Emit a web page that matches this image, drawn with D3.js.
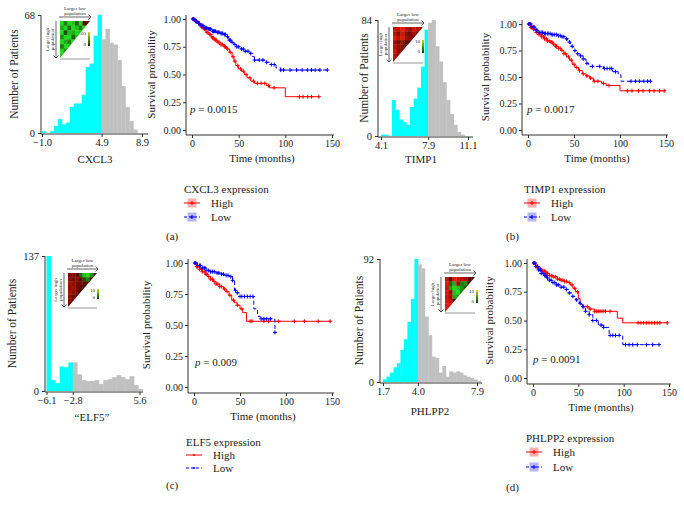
<!DOCTYPE html>
<html><head><meta charset="utf-8">
<script src="https://cdn.jsdelivr.net/npm/d3@7"></script>
<style>body{margin:0;background:#fff}svg{display:block}text{font-family:"Liberation Serif","Times New Roman",serif;fill:#222}</style>
</head><body>
<svg id="c" width="684" height="509"></svg>
<script>
// ---------------- data ----------------
const histXLabels = ["CXCL3", "TIMP1", "\u201CELF5\u201D", "PHLPP2"];
const legendTitles = ["CXCL3 expression", "TIMP1 expression", "ELF5 expression", "PHLPP2 expression"];
const pValues = ["0.0015", "0.0017", "0.009", "0.0091"];
const panelLetters = ["(a)", "(b)", "(c)", "(d)"];
const groupNames = ["High", "Low"];
const survTicksX = [0, 50, 100, 150];
const survTicksY = [0, 0.25, 0.5, 0.75, 1];

// histograms
const histA_ticks = [-1.0, 4.9, 8.9], histA_max = 68, histA_bin = 0.393;
const histA_low = [1, 0, 1, 4, 8, 5, 6, 15, 17, 17, 22, 38, 40, 56, 68];
const histA_high = [54, 60, 52, 51, 42, 27, 15, 7, 2];
const histB_ticks = [4.1, 7.9, 11.1], histB_max = 84, histB_bin = 0.292;
const histB_low = [1, 1, 0, 26, 19, 12, 10, 8, 21, 27, 35, 50, 77];
const histB_high = [82, 84, 65, 54, 39, 26, 16, 8, 3, 1];
const histC_ticks = [-6.1, -2.8, 5.6], histC_max = 137, histC_bin = 0.55;
const histC_low = [137, 11, 8, 25, 24, 29];
const histC_high = [29, 17, 11, 10, 10, 11, 7, 11, 12, 14, 16, 14, 12, 15, 6, 2];
const histD_ticks = [1.7, 4.0, 7.9], histD_max = 92, histD_bin = 0.23;
const histD_low = [2, 4, 7, 11, 14, 24, 32, 45, 62, 92];
const histD_high = [88, 85, 49, 35, 19, 18, 7, 12, 4, 8, 7, 8, 7, 5, 4, 3, 2, 1];

// survival curves [time, survival]
const survA_high = [[0,1],[3,0.98],[6,0.96],[9,0.93],[12,0.91],[15,0.88],[18,0.86],[21,0.83],[24,0.81],[27,0.79],[30,0.77],[34,0.75],[37,0.73],[40,0.70],[43,0.66],[45,0.62],[47,0.58],[50,0.55],[53,0.53],[56,0.50],[59,0.47],[63,0.44],[67,0.42],[80,0.40],[83,0.38],[100,0.30]];
const survA_highEnd = 137;
const survA_highCens = [1,2,4,5,7,8,10,11,13,14,16,17,19,20,22,23,25,26,28,29,31,32,33,35,36,38,41,44,46,49,52,55,58,62,66,70,74,78,82,88,115,119,124,128,136];
const survA_low = [[0,1],[3,0.98],[6,0.96],[9,0.94],[13,0.92],[17,0.91],[21,0.89],[26,0.88],[30,0.87],[34,0.86],[37,0.84],[39,0.81],[42,0.79],[45,0.77],[48,0.75],[52,0.73],[56,0.71],[62,0.69],[65,0.66],[67,0.63],[78,0.61],[83,0.59],[90,0.56],[95,0.54]];
const survA_lowEnd = 145;
const survA_lowCens = [1,2,4,5,7,8,10,11,12,14,15,16,18,19,20,22,23,24,25,27,28,29,31,32,33,35,36,38,40,41,43,46,48,50,53,55,57,60,63,67,72,76,80,85,88,95,98,105,112,118,124,128,132,137,145];

const survB_high = [[0,1],[3,0.97],[6,0.95],[9,0.92],[12,0.90],[15,0.88],[18,0.86],[21,0.84],[24,0.83],[27,0.81],[30,0.79],[33,0.77],[36,0.75],[39,0.72],[42,0.69],[45,0.66],[48,0.62],[51,0.59],[55,0.56],[59,0.53],[63,0.51],[67,0.49],[71,0.46],[80,0.44],[85,0.42],[100,0.37]];
const survB_highEnd = 150;
const survB_highCens = [1,2,3,5,6,8,9,11,12,14,15,17,18,20,21,23,25,26,28,30,31,33,35,37,39,41,44,47,50,53,56,60,64,68,72,76,82,88,108,113,120,125,132,137,143,148];
const survB_low = [[0,1],[4,0.97],[8,0.94],[12,0.92],[18,0.91],[25,0.90],[32,0.89],[36,0.88],[40,0.86],[43,0.83],[46,0.79],[49,0.75],[52,0.72],[56,0.70],[60,0.67],[63,0.63],[66,0.60],[82,0.58],[92,0.55],[98,0.52],[101,0.46]];
const survB_lowEnd = 134;
const survB_lowCens = [1,2,3,4,6,7,9,10,12,13,15,16,18,19,21,22,24,26,27,29,31,33,35,37,39,42,45,48,51,54,57,60,64,70,78,83,86,89,91,95,112,117,121,126,130,133];

const survC_high = [[0,1],[3,0.97],[6,0.95],[9,0.93],[12,0.91],[15,0.89],[18,0.87],[21,0.85],[24,0.83],[28,0.81],[32,0.79],[35,0.77],[38,0.74],[41,0.70],[44,0.68],[47,0.66],[50,0.63],[53,0.60],[57,0.53]];
const survC_highEnd = 148;
const survC_highCens = [1,3,4,6,8,9,11,13,14,16,18,20,22,24,26,28,30,33,36,39,43,47,52,61,63,76,81,92,109,120,135,148];
const survC_low = [[0,1],[4,0.98],[8,0.96],[13,0.94],[18,0.93],[23,0.92],[28,0.91],[33,0.90],[38,0.89],[42,0.86],[44,0.78],[46,0.76],[49,0.73],[65,0.63],[69,0.57],[72,0.55],[88,0.44]];
const survC_lowEnd = 88;
const survC_lowCens = [1,2,4,6,7,9,11,12,14,16,18,20,22,25,27,30,32,35,37,40,42,45,47,50,52,55,58,61,64,73,76,79,83,88];

const survD_high = [[0,1],[3,0.97],[6,0.95],[10,0.93],[14,0.91],[18,0.89],[22,0.88],[27,0.86],[31,0.85],[35,0.84],[38,0.83],[41,0.81],[44,0.78],[47,0.75],[50,0.69],[52,0.64],[55,0.62],[62,0.60],[68,0.58],[93,0.52],[99,0.48]];
const survD_highEnd = 148;
const survD_highCens = [1,2,4,5,7,8,10,12,13,15,16,18,20,21,23,25,27,29,31,33,35,37,40,43,46,49,56,60,63,68,70,72,74,76,78,80,85,116,119,122,125,128,131,134,137,140,148];
const survD_low = [[0,1],[3,0.97],[6,0.94],[9,0.91],[12,0.89],[15,0.87],[18,0.85],[21,0.83],[25,0.81],[30,0.79],[35,0.77],[39,0.74],[43,0.71],[47,0.68],[51,0.65],[55,0.62],[58,0.58],[62,0.55],[66,0.50],[72,0.46],[78,0.44],[84,0.37],[99,0.29]];
const survD_lowEnd = 140;
const survD_lowCens = [1,2,3,5,6,8,9,11,13,14,16,18,20,22,24,26,28,31,34,37,40,44,48,52,55,58,62,66,70,75,78,85,88,91,95,102,106,110,115,125,132,139];

// inset heat maps (pairwise split scores; negative = green, positive = red)
const heatA = [
 [-0.9,-0.5,-0.9,-0.8,-0.4,-0.9,0.3,0.2],
 [-0.7,-0.9,-0.4,-0.9,-0.8,-0.5,-0.9,0],
 [-0.9,-0.3,-0.8,-0.7,-0.9,-0.8,0,0],
 [-0.6,-0.9,-0.9,-0.4,-0.8,0,0,0],
 [-0.9,-0.7,-0.5,-0.9,0,0,0,0],
 [-0.5,-0.9,-0.8,0,0,0,0,0],
 [-0.9,-0.6,0,0,0,0,0,0],
 [-0.8,0,0,0,0,0,0,0]];
const heatB = [
 [0.8,0.7,0.9,0.7,0.6,0.8,0.7,0.5],
 [0.7,0.5,0.8,0.5,0.4,0.6,0.4,0],
 [0.9,0.7,0.9,0.6,0.5,0.4,0,0],
 [0.6,0.4,0.6,0.3,0.3,0,0,0],
 [0.7,0.5,0.5,0.3,0,0,0,0],
 [0.8,0.5,0.4,0,0,0,0,0],
 [0.7,0.4,0,0,0,0,0,0],
 [0.6,0,0,0,0,0,0,0]];
const heatC = [
 [0.4,0.5,0.3,-0.4,-0.8,-0.9,-0.6,0.2],
 [0.5,0.4,0.5,0.3,-0.3,-0.5,0.2,0],
 [0.6,0.5,0.4,0.4,0.3,0.2,0,0],
 [0.5,0.6,0.4,0.3,0.2,0,0,0],
 [0.6,0.5,0.4,0.2,0,0,0,0],
 [0.5,0.4,0.3,0,0,0,0,0],
 [0.5,0.3,0,0,0,0,0,0],
 [0.4,0,0,0,0,0,0,0]];
const heatD = [
 [0.8,0.3,0.9,0.8,0.7,0.6,0.3,0.2],
 [0.9,-0.4,-0.7,0.6,-0.5,-0.6,0.2,0],
 [0.8,-0.6,-0.9,-0.8,-0.6,-0.3,0,0],
 [0.9,0.5,-0.8,-0.9,-0.5,0,0,0],
 [0.8,0.6,-0.7,-0.6,0,0,0,0],
 [0.9,0.7,0.3,0,0,0,0,0],
 [0.9,0.8,0,0,0,0,0,0],
 [0.9,0,0,0,0,0,0,0]];
const heatBarLabels = [[".05","0"],["10","0"],["10","0"],["10","0"]];

// ---------------- layout ----------------
const svg = d3.select("#c");
svg.append("rect").attr("width",684).attr("height",509).attr("fill","#fff");
const FONT = "Liberation Serif";

function hideDomain(sel){ sel.select(".domain").remove(); sel.selectAll(".tick line").attr("stroke","#333"); sel.selectAll(".tick text").attr("font-family",FONT).attr("fill","#222"); }

function drawHist(L, ticks, ymax, bin, low, high, xlabel){
  const g = svg.append("g");
  const x = d3.scaleLinear().domain([ticks[0], ticks[2]]).range([L.xa, L.xb]);
  const y = d3.scaleLinear().domain([0, ymax]).range([L.yb, L.yt]);
  const bars = [];
  low.forEach((c,i)=>bars.push({x0: ticks[0]+i*bin, x1: ticks[0]+(i+1)*bin, c, col:"#00ffff"}));
  const lowEnd = ticks[0] + low.length*bin;
  high.forEach((c,i)=>bars.push({x0: lowEnd+i*bin, x1: lowEnd+(i+1)*bin, c, col:"#c0c0c0"}));
  g.selectAll("rect.bar").data(bars).join("rect").attr("class","bar")
    .attr("x",d=>x(d.x0)).attr("width",d=>Math.max(0,x(d.x1)-x(d.x0))+0.4)
    .attr("y",d=>y(d.c)).attr("height",d=>y(0)-y(d.c)).attr("fill",d=>d.col);
  // axes
  const xa = g.append("g").attr("transform",`translate(0,${L.yb+1})`)
    .call(d3.axisBottom(x).tickValues(ticks).tickFormat(d3.format(".1f")).tickSize(3).tickPadding(2));
  hideDomain(xa); xa.selectAll(".tick text").attr("font-size",10.5);
  g.append("line").attr("x1",L.ax).attr("x2",L.xe).attr("y1",L.yb+1).attr("y2",L.yb+1).attr("stroke","#333");
  const ya = g.append("g").attr("transform",`translate(${L.ax},0)`)
    .call(d3.axisLeft(y).tickValues([0,ymax]).tickSize(3).tickPadding(3));
  hideDomain(ya); ya.selectAll(".tick text").attr("font-size",10.5);
  g.append("line").attr("x1",L.ax).attr("x2",L.ax).attr("y1",L.yt).attr("y2",L.yb+1).attr("stroke","#333");
  g.append("text").attr("transform",`translate(${L.ylx},${(L.yt+L.yb)/2}) rotate(-90)`)
    .attr("text-anchor","middle").attr("font-size",11.5).text("Number of Patients");
  g.append("text").attr("x",L.xlx).attr("y",L.xly).attr("text-anchor","middle").attr("font-size",11).text(xlabel);
}

function heatColor(v){
  if (v < 0) return d3.interpolateRgb("#1a0a00","#22ee22")(-v);
  return d3.interpolateRgb("#1a0000","#ff1a00")(v);
}

function drawInset(I, M, barLab, idx){
  const g = svg.append("g");
  const n = M.length, cw = I.w/n, ch = I.h/n;
  g.append("rect").attr("x",I.x).attr("y",I.y).attr("width",I.w).attr("height",I.h).attr("fill","#fff");
  const cells = [];
  M.forEach((row,i)=>row.forEach((v,j)=>{ if(i+j<n) cells.push({i,j,v}); }));
  const clipId = "tri"+idx;
  g.append("clipPath").attr("id",clipId).append("path")
    .attr("d",`M${I.x},${I.y}L${I.x+I.w},${I.y}L${I.x},${I.y+I.h}Z`);
  g.append("g").attr("clip-path",`url(#${clipId})`).selectAll("rect").data(cells).join("rect")
    .attr("x",d=>I.x+d.j*cw).attr("y",d=>I.y+d.i*ch).attr("width",cw+0.3).attr("height",ch+0.3)
    .attr("fill",d=>heatColor(d.v));
  // bottom line
  g.append("line").attr("x1",I.x).attr("x2",I.x+I.w).attr("y1",I.y+I.h+1).attr("y2",I.y+I.h+1).attr("stroke","#555").attr("stroke-width",0.6);
  // colour bar
  const gid = "cb"+idx;
  const grad = svg.append("defs").append("linearGradient").attr("id",gid).attr("x1",0).attr("x2",0).attr("y1",0).attr("y2",1);
  grad.append("stop").attr("offset","0%").attr("stop-color","#e8d000");
  grad.append("stop").attr("offset","50%").attr("stop-color","#40a000");
  grad.append("stop").attr("offset","100%").attr("stop-color","#103000");
  g.append("rect").attr("x",I.cbx).attr("y",I.cby).attr("width",2).attr("height",I.cbh).attr("fill",`url(#${gid})`);
  g.append("text").attr("x",I.cbx-2).attr("y",I.cby+3).attr("text-anchor","end").attr("font-size",5).text(barLab[0]);
  g.append("text").attr("x",I.cbx-2).attr("y",I.cby+I.cbh).attr("text-anchor","end").attr("font-size",5).text(barLab[1]);
  // arrows
  const ah = 2.5;
  g.append("path").attr("d",`M${I.x-1},${I.y-4}H${I.x+I.w+1}M${I.x+I.w+1-ah},${I.y-4-ah}L${I.x+I.w+1},${I.y-4}L${I.x+I.w+1-ah},${I.y-4+ah}`)
    .attr("fill","none").attr("stroke","#222").attr("stroke-width",0.7);
  g.append("path").attr("d",`M${I.x-4},${I.y}V${I.y+I.h}M${I.x-4-ah},${I.y+I.h-ah}L${I.x-4},${I.y+I.h}L${I.x-4+ah},${I.y+I.h-ah}`)
    .attr("fill","none").attr("stroke","#222").attr("stroke-width",0.7);
  const cx = I.x + I.w/2;
  g.append("text").attr("x",cx).attr("y",I.y-11).attr("text-anchor","middle").attr("font-size",5).text("Larger low");
  g.append("text").attr("x",cx).attr("y",I.y-6).attr("text-anchor","middle").attr("font-size",5).text("population");
  const cy = I.y + I.h/2;
  g.append("text").attr("transform",`translate(${I.x-11},${cy}) rotate(-90)`).attr("text-anchor","middle").attr("font-size",5).text("Larger high");
  g.append("text").attr("transform",`translate(${I.x-6.5},${cy}) rotate(-90)`).attr("text-anchor","middle").attr("font-size",5).text("population");
}

function stepAt(curve, t){ let s = curve[0][1]; for (const p of curve){ if (p[0] <= t) s = p[1]; } return s; }

function drawSurv(L, high, highEnd, highCens, low, lowEnd, lowCens, pval){
  const g = svg.append("g");
  const x = d3.scaleLinear().domain([0,150]).range([L.t0, L.t150]);
  const y = d3.scaleLinear().domain([0,1]).range([L.s0, L.s1]);
  const line = d3.line().curve(d3.curveStepAfter).x(d=>x(d[0])).y(d=>y(d[1]));
  const series = [
    {c: high, end: highEnd, cens: highCens, col:"#ff0000", dash:null},
    {c: low, end: lowEnd, cens: lowCens, col:"#0000ff", dash:"4,2.5"}];
  series.forEach(s=>{
    const pts = s.c.concat([[s.end, s.c[s.c.length-1][1]]]);
    g.append("path").attr("d",line(pts)).attr("fill","none").attr("stroke",s.col).attr("stroke-width",1).attr("stroke-dasharray",s.dash);
    g.append("g").selectAll("path").data(s.cens).join("path")
      .attr("d",t=>{const px=x(t), py=y(stepAt(s.c,t)); return `M${px-2},${py}H${px+2}M${px},${py-2}V${py+2}`;})
      .attr("stroke",s.col).attr("stroke-width",1);
  });
  const xa = g.append("g").attr("transform",`translate(0,${L.xay})`)
    .call(d3.axisBottom(x).tickValues(survTicksX).tickSize(3).tickPadding(2));
  hideDomain(xa); xa.selectAll(".tick text").attr("font-size",10);
  g.append("line").attr("x1",L.ax).attr("x2",x(150)+2).attr("y1",L.xay).attr("y2",L.xay).attr("stroke","#333");
  const ya = g.append("g").attr("transform",`translate(${L.ax},0)`)
    .call(d3.axisLeft(y).tickValues(survTicksY).tickFormat(d3.format(".2f")).tickSize(3).tickPadding(2));
  hideDomain(ya); ya.selectAll(".tick text").attr("font-size",10);
  g.append("line").attr("x1",L.ax).attr("x2",L.ax).attr("y1",y(1)-4).attr("y2",L.xay).attr("stroke","#333");
  g.append("text").attr("transform",`translate(${L.ylx},${(y(0)+y(1))/2}) rotate(-90)`).attr("text-anchor","middle").attr("font-size",11).text("Survival probability");
  g.append("text").attr("x",(x(0)+x(150))/2).attr("y",L.xay+27).attr("text-anchor","middle").attr("font-size",11).text("Time (months)");
  const pt = g.append("text").attr("x",L.px).attr("y",L.py).attr("font-size",11);
  pt.append("tspan").attr("font-style","italic").text("p");
  pt.append("tspan").text(" = " + pval);
}

function drawLegend(G, title, boxed){
  const g = svg.append("g");
  g.append("text").attr("x",G.x).attr("y",G.ty).attr("font-size",11).text(title);
  const rows = [{name:groupNames[0], y:G.y1, col:"#ff0000", fill:"#f6a0a0", dash:null},
                {name:groupNames[1], y:G.y2, col:"#0000ff", fill:"#a8a8f6", dash:"3,2"}];
  rows.forEach(r=>{
    const cx = G.x + 8;
    if (boxed) g.append("rect").attr("x",cx-4.5).attr("y",r.y-4.5).attr("width",9).attr("height",9).attr("fill",r.fill).attr("opacity",0.85);
    g.append("line").attr("x1",G.x).attr("x2",G.x+16).attr("y1",r.y).attr("y2",r.y).attr("stroke",r.col).attr("stroke-dasharray",r.dash).attr("stroke-width",1);
    g.append("path").attr("d",boxed?`M${cx-2},${r.y}H${cx+2}M${cx},${r.y-2}V${r.y+2}`:`M${cx-1},${r.y}H${cx+1}M${cx},${r.y-1}V${r.y+1}`).attr("stroke",r.col).attr("stroke-width",1);
    g.append("text").attr("x",G.x+27).attr("y",r.y+4).attr("font-size",11).text(r.name);
  });
}

// panel (a)
drawHist({xa:42,xb:142,ax:41,xe:148,yt:15,yb:133,ylx:18,xlx:95,xly:163}, histA_ticks, histA_max, histA_bin, histA_low, histA_high, histXLabels[0]);
drawInset({x:60,y:21,w:30,h:37,cbx:88,cby:32,cbh:14}, heatA, heatBarLabels[0], 0);
drawSurv({ax:186,t0:192,t150:332,s0:130,s1:19,xay:135,ylx:155,px:190,py:113}, survA_high, survA_highEnd, survA_highCens, survA_low, survA_lowEnd, survA_lowCens, pValues[0]);
drawLegend({x:184,ty:193,y1:203,y2:217}, legendTitles[0], true);
// panel (b)
drawHist({xa:381,xb:468,ax:378,xe:473,yt:20,yb:136,ylx:368,xlx:421,xly:163}, histB_ticks, histB_max, histB_bin, histB_low, histB_high, histXLabels[1]);
drawInset({x:393,y:27,w:30,h:35,cbx:422,cby:40,cbh:13}, heatB, heatBarLabels[1], 1);
drawSurv({ax:522,t0:528,t150:666,s0:130,s1:24,xay:135,ylx:489,px:527,py:113}, survB_high, survB_highEnd, survB_highCens, survB_low, survB_lowEnd, survB_lowCens, pValues[1]);
drawLegend({x:524,ty:193,y1:203,y2:217}, legendTitles[1], true);
// panel (c)
drawHist({xa:46.5,xb:139.5,ax:45,xe:143,yt:256,yb:391,ylx:16,xlx:92,xly:421}, histC_ticks, histC_max, histC_bin, histC_low, histC_high, histXLabels[2]);
drawInset({x:68,y:273,w:29,h:34,cbx:97,cby:289,cbh:10}, heatC, heatBarLabels[2], 2);
drawSurv({ax:188,t0:194,t150:332,s0:387,s1:263,xay:393,ylx:150,px:195,py:366}, survC_high, survC_highEnd, survC_highCens, survC_low, survC_lowEnd, survC_lowCens, pValues[2]);
drawLegend({x:186,ty:446,y1:455,y2:468}, legendTitles[2], false);
// panel (d)
drawHist({xa:383,xb:477,ax:380,xe:482,yt:259,yb:382,ylx:363,xlx:430,xly:415}, histD_ticks, histD_max, histD_bin, histD_low, histD_high, histXLabels[3]);
drawInset({x:445,y:277,w:30,h:35,cbx:476,cby:290,cbh:13}, heatD, heatBarLabels[3], 3);
drawSurv({ax:527,t0:533,t150:669,s0:378,s1:263,xay:384,ylx:493,px:533,py:363}, survD_high, survD_highEnd, survD_highCens, survD_low, survD_lowEnd, survD_lowCens, pValues[3]);
drawLegend({x:526,ty:442,y1:452,y2:467}, legendTitles[3], true);

// panel letters
[[166,240],[506,240],[166,489],[506,491]].forEach((p,i)=>{
  svg.append("text").attr("x",p[0]).attr("y",p[1]).attr("font-size",11).text(panelLetters[i]);
});
</script>
</body></html>
